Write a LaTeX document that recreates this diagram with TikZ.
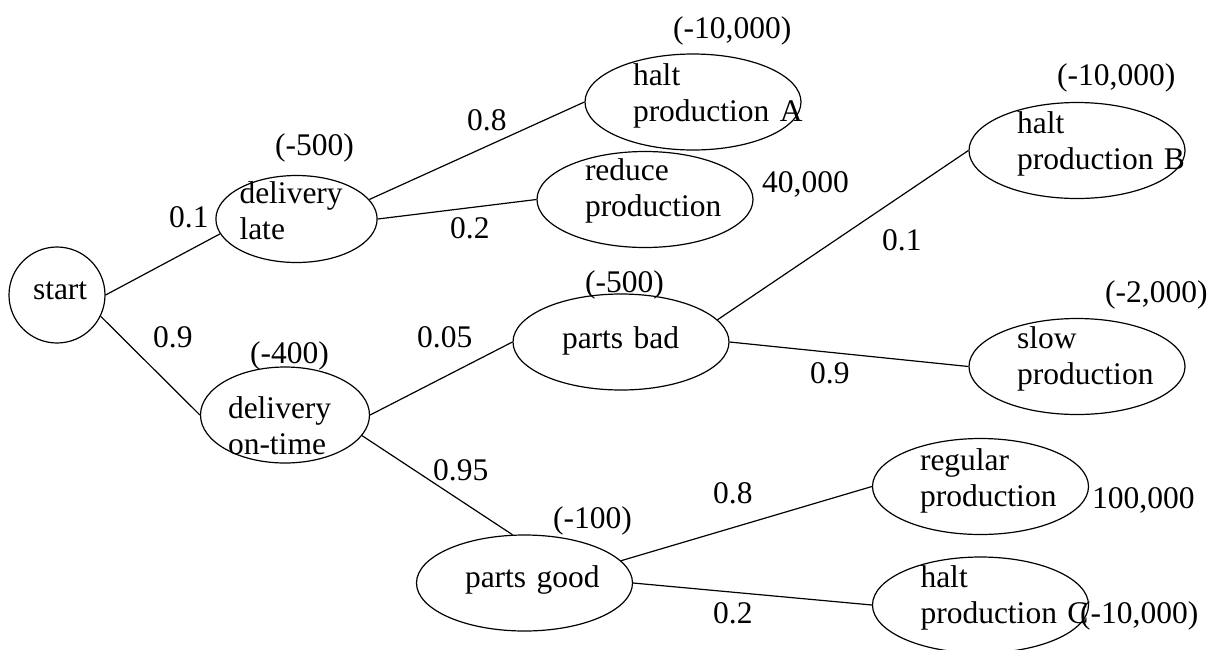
\documentclass[tikz,border=0pt]{standalone}
\usepackage{fontspec}
\setmainfont{Liberation Serif}
\usetikzlibrary{shapes.geometric}
\hyphenpenalty=10000
\exhyphenpenalty=10000

\tikzset{
  event/.style={draw, ellipse, line width=1.2pt, inner sep=0pt, align=left,
    minimum width=216pt, minimum height=96pt, text width=120pt},
  val/.style={anchor=base west, inner sep=0pt},
  branch/.style={line width=1.2pt},
}

\begin{document}
\begin{tikzpicture}[x=1pt, y=-1pt, font=\fontsize{31.5}{36}\selectfont]
  \useasboundingbox (0,0) rectangle (1220,649);
  % chance nodes
  \node[draw, circle, line width=1.2pt, inner sep=0pt, minimum size=96pt, align=left, text width=48pt, text height=8pt, text depth=0pt] (start) at (57,295) {start};
  \node[event, minimum width=145pt, minimum height=87pt, text width=114pt, text height=0pt, text depth=32pt] (dlate) at (296.5,219) {delivery\\late};
  \node[event, minimum width=169pt, text width=114pt, text height=6pt, text depth=0pt] (dontime) at (285,415) {delivery\\on-time};
  \node[event, text height=0pt, text depth=34pt] (haltA) at (693,102) {halt\\production~A};
  \node[event, text height=0pt, text depth=39pt] (reduce) at (645,199.5) {reduce\\production};
  \node[event, text width=118pt, text height=12pt, text depth=0pt] (pbad) at (621,342) {parts~bad};
  \node[event, text width=119pt, text height=8pt, text depth=0pt] (pgood) at (524.5,583) {parts~good};
  \node[event, text height=0pt, text depth=35pt] (haltB) at (1077,150.5) {halt\\production~B};
  \node[event, text height=0pt, text depth=37pt] (slow) at (1077,366.5) {slow\\production};
  \node[event, text width=121pt, text height=0pt, text depth=33pt] (regular) at (980.5,486.5) {regular\\production};
  \node[event, text height=0pt, text depth=36pt] (haltC) at (980.5,605) {halt\\production~C};
  % branches
  \draw[branch] (start.east) -- (dlate.191);
  \draw[branch] (start.-26) -- (dontime.west);
  \draw[branch] (dlate.15) -- (haltA.west);
  \draw[branch] (dlate.east) -- (reduce.west);
  \draw[branch] (dontime.east) -- (pbad.west);
  \draw[branch] (dontime.-15) -- (pgood.104);
  \draw[branch] (pbad.13) -- (haltB.west);
  \draw[branch] (pbad.east) -- (slow.west);
  \draw[branch] (pgood.13) -- (regular.west);
  \draw[branch] (pgood.east) -- (haltC.west);
  % probabilities
  \node[val] (pdlate) at (169,227) {0.1};
  \node[val] (pdontime) at (153,347) {0.9};
  \node[val] (phaltA) at (467,130) {0.8};
  \node[val] (preduce) at (450,238) {0.2};
  \node[val] (ppbad) at (417,347) {0.05};
  \node[val] (ppgood) at (433,480) {0.95};
  \node[val] (phaltB) at (882,250) {0.1};
  \node[val] (pslow) at (810,383) {0.9};
  \node[val] (pregular) at (713,503) {0.8};
  \node[val] (phaltC) at (713,623) {0.2};
  % payoffs
  \node[val] (vhaltA) at (673,38) {(-10,000)};
  \node[val] (vdlate) at (275,155) {(-500)};
  \node[val] (vreduce) at (762,192) {40,000};
  \node[val] (vhaltB) at (1057,85) {(-10,000)};
  \node[val] (vpbad) at (585,292) {(-500)};
  \node[val] (vslow) at (1105,302) {(-2,000)};
  \node[val] (vdontime) at (250,363) {(-400)};
  \node[val] (vpgood) at (553,528) {(-100)};
  \node[val] (vregular) at (1092,508) {100,000};
  \node[val] (vhaltC) at (1080,623) {(-10,000)};
\end{tikzpicture}
\end{document}
